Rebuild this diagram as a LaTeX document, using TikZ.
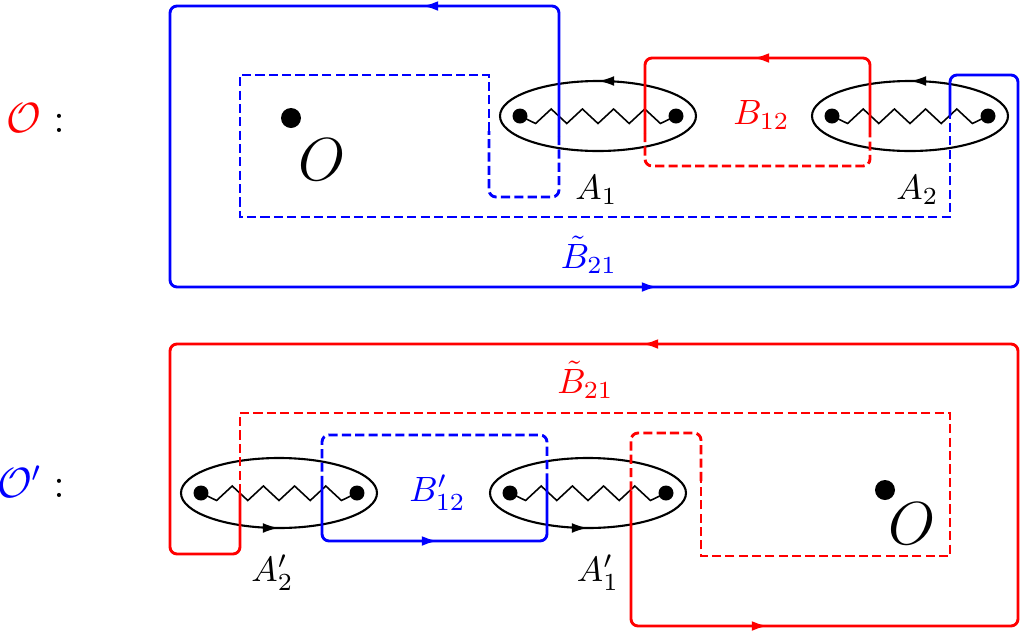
\documentclass[tikz,border=0pt]{standalone}
\usepackage{xcolor}
\usetikzlibrary{arrows.meta,decorations.markings}

\begin{document}
\begin{tikzpicture}[
  solidpart/.style={line width=0.82pt,rounded corners=2pt},
  hidden/.style={line width=0.82pt,dash pattern=on 2.6pt off 1.2pt},
  hiddenr/.style={hidden,rounded corners=2pt},
  tip/.style={line width=0.82pt,-{Latex[length=4.6pt,width=2.8pt]}},
  cutloop/.style={line width=0.6pt,postaction={decorate},
    decoration={markings,mark=at position #1 with {\arrow{Latex[length=4.6pt,width=2.8pt]}}}},
  cutline/.style={line width=0.45pt},
  branchpt/.style={circle,fill,inner sep=0pt,minimum size=0.15cm},
  bigdot/.style={circle,fill,inner sep=0pt,minimum size=0.2cm},
  lbl/.style={inner sep=0pt}
]
\useasboundingbox (0,0) rectangle (10.21,6.31);

% cuts with their encircling loops
\foreach \x/\y/\p in {5.98/5.15/0.25, 9.10/5.15/0.25, 2.79/1.38/0.75, 5.88/1.38/0.75} {
  \draw[cutloop=\p] (\x,\y) ellipse (0.98 and 0.35);
  \node[branchpt] (l) at (\x-0.78,\y) {};
  \node[branchpt] (r) at (\x+0.78,\y) {};
  \draw[cutline] (l.center) -- ++(0.156,-0.075)
    -- ++(0.156,0.145) -- ++(0.156,-0.145) -- ++(0.156,0.145) -- ++(0.156,-0.145)
    -- ++(0.156,0.145) -- ++(0.156,-0.145) -- ++(0.156,0.145) -- ++(0.156,-0.145)
    -- (r.center);
}

%% observer O
\node[lbl,anchor=base east,font=\large] (obs1) at (0.655,4.99) {$\textcolor{red}{\mathcal{O}}:$};
\node[bigdot] (o1) at (2.91,5.13) {};
\node[lbl,font=\LARGE] (o1lbl) at (3.225,4.71) {$O$};
\node[lbl] (a1) at (5.965,4.41) {$A_1$};
\node[lbl] (a2) at (9.175,4.41) {$A_2$};
\node[lbl,text=red] (b12) at (7.615,5.16) {$B_{12}$};
\node[lbl,text=blue] (bt21) at (5.89,3.76) {$\tilde{B}_{21}$};

% blue contour
\draw[solidpart,blue] (5.59,4.95) -- (5.59,6.25) -- (1.70,6.25) -- (1.70,3.44)
  -- (10.18,3.44) -- (10.18,5.56) -- (9.50,5.56) -- (9.50,5.15);
\draw[hiddenr,blue] (5.59,4.95) -- (5.59,4.34) -- (4.89,4.34) -- (4.89,5.0);
\draw[hidden,blue] (4.89,5.0) -- (4.89,5.56) -- (2.40,5.56) -- (2.40,4.14) -- (9.50,4.14) -- (9.50,5.15);
\draw[tip,blue] (4.40,6.25) -- (4.22,6.25);
\draw[tip,blue] (6.40,3.44) -- (6.58,3.44);

% red contour
\draw[solidpart,red] (6.45,4.98) -- (6.45,5.73) -- (8.70,5.73) -- (8.70,4.98);
\draw[hiddenr,red] (6.45,4.98) -- (6.45,4.65) -- (8.70,4.65) -- (8.70,4.98);
\draw[tip,red] (7.71,5.73) -- (7.53,5.73);

%% observer O'
\node[lbl,anchor=base east,font=\large] (obs2) at (0.655,1.34) {$\textcolor{blue}{\mathcal{O}'}:$};
\node[bigdot] (o2) at (8.85,1.41) {};
\node[lbl,font=\LARGE] (o2lbl) at (9.12,1.075) {$O$};
\node[lbl] (a2p) at (2.725,0.585) {$A'_2$};
\node[lbl] (a1p) at (5.98,0.585) {$A'_1$};
\node[lbl,text=blue] (b12p) at (4.375,1.385) {$B'_{12}$};
\node[lbl,text=red] (bt21p) at (5.855,2.51) {$\tilde{B}_{21}$};

% red contour
\draw[solidpart,red] (2.40,1.38) -- (2.40,0.77) -- (1.70,0.77) -- (1.70,2.87)
  -- (10.18,2.87) -- (10.18,0.05) -- (6.31,0.05) -- (6.31,1.40);
\draw[hidden,red] (2.40,1.38) -- (2.40,2.18) -- (9.50,2.18) -- (9.50,0.75) -- (7.01,0.75) -- (7.01,1.5);
\draw[hiddenr,red] (7.01,1.5) -- (7.01,1.98) -- (6.31,1.98) -- (6.31,1.40);
\draw[tip,red] (6.60,2.87) -- (6.42,2.87);
\draw[tip,red] (7.50,0.05) -- (7.68,0.05);

% blue contour
\draw[solidpart,blue] (3.22,1.46) -- (3.22,0.90) -- (5.47,0.90) -- (5.47,1.52);
\draw[hiddenr,blue] (3.22,1.46) -- (3.22,1.96) -- (5.47,1.96) -- (5.47,1.52);
\draw[tip,blue] (4.20,0.90) -- (4.38,0.90);
\end{tikzpicture}
\end{document}
